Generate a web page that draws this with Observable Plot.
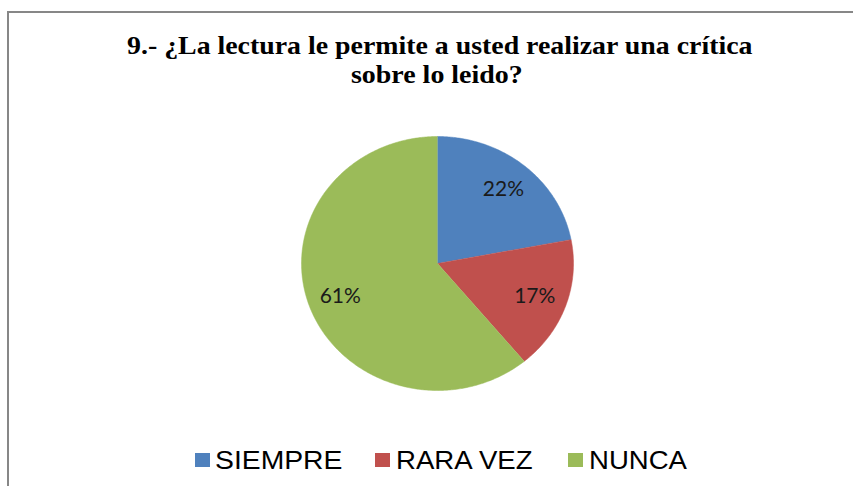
<!DOCTYPE html>
<html><head><meta charset="utf-8">
<script src="https://cdn.jsdelivr.net/npm/d3@7"></script>
<script src="https://cdn.jsdelivr.net/npm/@observablehq/plot@0.6"></script>
<style>
body{margin:0;background:#fff;}
#wrap{position:relative;width:853px;height:486px;overflow:hidden;background:#fff;}
#frame{position:absolute;left:7px;top:11px;width:900px;height:600px;border-left:2px solid #878787;border-top:2px solid #878787;}
.t{position:absolute;white-space:nowrap;font-family:"Liberation Serif",serif;font-weight:bold;color:#000;transform-origin:0 0;}
.lg{position:absolute;white-space:nowrap;font-family:"Liberation Sans",Arial,sans-serif;color:#000;transform-origin:0 0;}
.sw{position:absolute;}
#chart{position:absolute;left:0;top:0;}
</style></head><body>
<div id="wrap"><div id="frame"></div><div id="chart"></div></div>
<script>
const titleLines = ["9.- ¿La lectura le permite a usted realizar una crítica", "sobre lo leido?"];
const categories = ["SIEMPRE", "RARA VEZ", "NUNCA"];
const values = [22, 17, 61];
const labels = ["22%", "17%", "61%"];
const colors = ["#4F81BD", "#C0504D", "#9BBB59"];

const wrap = document.getElementById("wrap");

function placeText(cls, text, fs, left, width, baseline) {
  const el = document.createElement("div");
  el.className = cls;
  el.textContent = text;
  el.style.fontSize = fs + "px";
  el.style.lineHeight = fs + "px";
  wrap.appendChild(el);
  const w = el.offsetWidth;
  el.style.left = left + "px";
  el.style.top = (baseline - 0.8375 * fs) + "px";
  el.style.transform = `scaleX(${width / w})`;
  return el;
}

// Title (centered at x=437)
placeText("t", titleLines[0], 25, 127, 625, 54);
placeText("t", titleLines[1], 25, 437 - 86, 172, 83);

// Legend
const legendLayout = [
  {sq: 195, tx: 215, tw: 128},
  {sq: 375, tx: 396, tw: 137},
  {sq: 568, tx: 589, tw: 98}
];
categories.forEach((c, i) => {
  const s = document.createElement("div");
  s.className = "sw";
  s.style.left = legendLayout[i].sq + "px";
  s.style.top = "453px";
  s.style.width = "15px";
  s.style.height = "14px";
  s.style.background = colors[i];
  wrap.appendChild(s);
  placeText("lg", c, 25, legendLayout[i].tx, legendLayout[i].tw, 469);
});

// Pie geometry from data
const arcs = d3.pie().sort(null).value(d => d.value)(categories.map((c, i) => ({cat: c, value: values[i], label: labels[i]})));
const pts = [];
arcs.forEach(a => {
  pts.push({cat: a.data.cat, x: 0, y: 0});
  const n = Math.max(2, Math.ceil((a.endAngle - a.startAngle) / 0.01));
  for (let k = 0; k <= n; k++) {
    const t = a.startAngle + (a.endAngle - a.startAngle) * k / n;
    pts.push({cat: a.data.cat, x: Math.sin(t), y: Math.cos(t)});
  }
});
const lab = arcs.map(a => {
  const m = (a.startAngle + a.endAngle) / 2;
  return {label: a.data.label, x: 0.76 * Math.sin(m), y: 0.76 * Math.cos(m)};
});

const chart = Plot.plot({
  width: 853,
  height: 486,
  marginLeft: 301,
  marginRight: 280,
  marginTop: 136,
  marginBottom: 96,
  x: {domain: [-1, 1], axis: null},
  y: {domain: [-1, 1], axis: null},
  color: {domain: categories, range: colors},
  style: {background: "transparent", overflow: "visible"},
  marks: [
    Plot.line(pts, {x: "x", y: "y", z: "cat", fill: "cat", stroke: "cat", strokeWidth: 0.5}),
    Plot.text(lab, {x: "x", y: "y", text: "label", fontSize: 21, fontFamily: "Lato, 'Noto Sans', sans-serif", fill: "#1a1a1a"})
  ]
});
document.getElementById("chart").appendChild(chart);
</script>
</body></html>
